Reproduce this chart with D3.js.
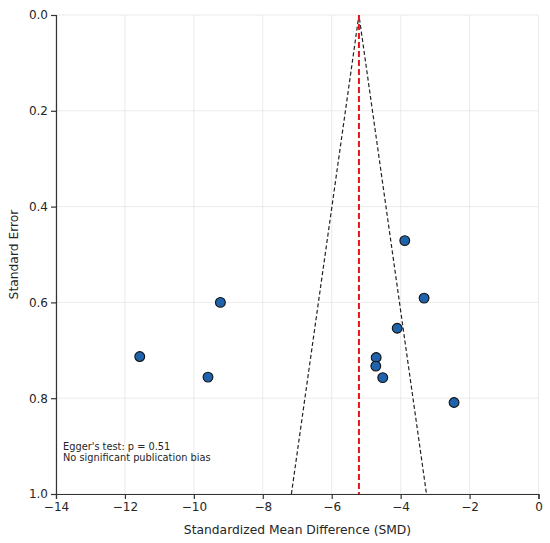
<!DOCTYPE html>
<html>
<head>
<meta charset="utf-8">
<script src="https://cdn.jsdelivr.net/npm/d3@7"></script>
<style>
  body { margin: 0; background: #fff; }
  text { font-family: "DejaVu Sans", sans-serif; fill: #262626; }
</style>
</head>
<body>
<div id="funnel"></div>
<script>
// study effects
var smd = [-3.88, -3.32, -4.10, -4.71, -4.72, -4.52, -2.45, -9.23, -11.57, -9.59];
var se  = [0.471, 0.591, 0.654, 0.715, 0.733, 0.757, 0.809, 0.600, 0.713, 0.756];
var pooled = -5.21;
var xTicks = [-14, -12, -10, -8, -6, -4, -2, 0];
var yTicks = [0.0, 0.2, 0.4, 0.6, 0.8, 1.0];
var noteLines = ["Egger's test: p = 0.51", "No significant publication bias"];

var margin = {top: 15, right: 11, bottom: 49, left: 56};
var width = 550 - margin.left - margin.right,
    height = 543 - margin.top - margin.bottom;

var svg = d3.select("#funnel")
    .append("svg")
        .attr("width", 550)
        .attr("height", 543)
    .append("g")
        .attr("transform", "translate(" + margin.left + "," + margin.top + ")");

var x = d3.scaleLinear().domain([-14, 0]).range([0, width - 0.5]);
var y = d3.scaleLinear().domain([0, 1]).range([0, height]);

// grid
svg.selectAll(".vgrid")
    .data(xTicks)
    .enter()
    .append("line")
    .attr("x1", function(d) { return x(d); })
    .attr("x2", function(d) { return x(d); })
    .attr("y1", 0).attr("y2", height)
    .attr("stroke", "#e6e6e6").attr("stroke-width", 0.8);
svg.selectAll(".hgrid")
    .data(yTicks)
    .enter()
    .append("line")
    .attr("y1", function(d) { return y(d); })
    .attr("y2", function(d) { return y(d); })
    .attr("x1", 0).attr("x2", x(0))
    .attr("stroke", "#e6e6e6").attr("stroke-width", 0.8);

// funnel (pooled +/- 1.96 SE)
var funnel = [[pooled - 1.96, 1], [pooled, 0], [pooled + 1.96, 1]];
svg.append("path")
    .attr("d", d3.line().x(function(d) { return x(d[0]); }).y(function(d) { return y(d[1]); })(funnel))
    .attr("fill", "none")
    .attr("stroke", "#222")
    .attr("stroke-width", 1.2)
    .attr("stroke-dasharray", "4,2.5");

// pooled estimate
svg.append("line")
    .attr("x1", x(pooled)).attr("x2", x(pooled))
    .attr("y1", 0).attr("y2", height)
    .attr("stroke", "#e8141c")
    .attr("stroke-width", 2)
    .attr("stroke-dasharray", "6,3");

// points
svg.selectAll(".study")
    .data(smd)
    .enter()
    .append("circle")
    .attr("cx", function(d) { return x(d); })
    .attr("cy", function(d, i) { return y(se[i]); })
    .attr("r", 4.9)
    .attr("fill", "#1f63ad")
    .attr("stroke", "#111")
    .attr("stroke-width", 1.1);

// axes
var xAxis = svg.append("g")
    .attr("transform", "translate(0," + height + ")")
    .call(d3.axisBottom(x).tickValues(xTicks).tickSize(5).tickPadding(3)
        .tickFormat(function(d) { return d3.format("d")(d).replace("-", "\u2212"); }));
var yAxis = svg.append("g")
    .call(d3.axisLeft(y).tickValues(yTicks).tickSize(5).tickPadding(3).tickFormat(d3.format(".1f")));

[xAxis, yAxis].forEach(function(a) {
    a.select(".domain").attr("stroke", "#333").attr("stroke-width", 1.2);
    a.selectAll(".tick line").attr("stroke", "#333").attr("stroke-width", 1.2);
    a.selectAll(".tick text").style("font-size", "12px").attr("fill", "#262626");
});

// labels
svg.append("text")
    .attr("x", width / 2)
    .attr("y", height + 40)
    .attr("text-anchor", "middle")
    .style("font-size", "12.3px")
    .text("Standardized Mean Difference (SMD)");
svg.append("text")
    .attr("transform", "rotate(-90)")
    .attr("x", -height / 2)
    .attr("y", -38)
    .attr("text-anchor", "middle")
    .style("font-size", "12.3px")
    .text("Standard Error");

svg.selectAll(".note")
    .data(noteLines)
    .enter()
    .append("text")
    .attr("x", 7)
    .attr("y", function(d, i) { return 434.5 + i * 11.5; })
    .style("font-size", "9.8px")
    .text(function(d) { return d; });
</script>
</body>
</html>
